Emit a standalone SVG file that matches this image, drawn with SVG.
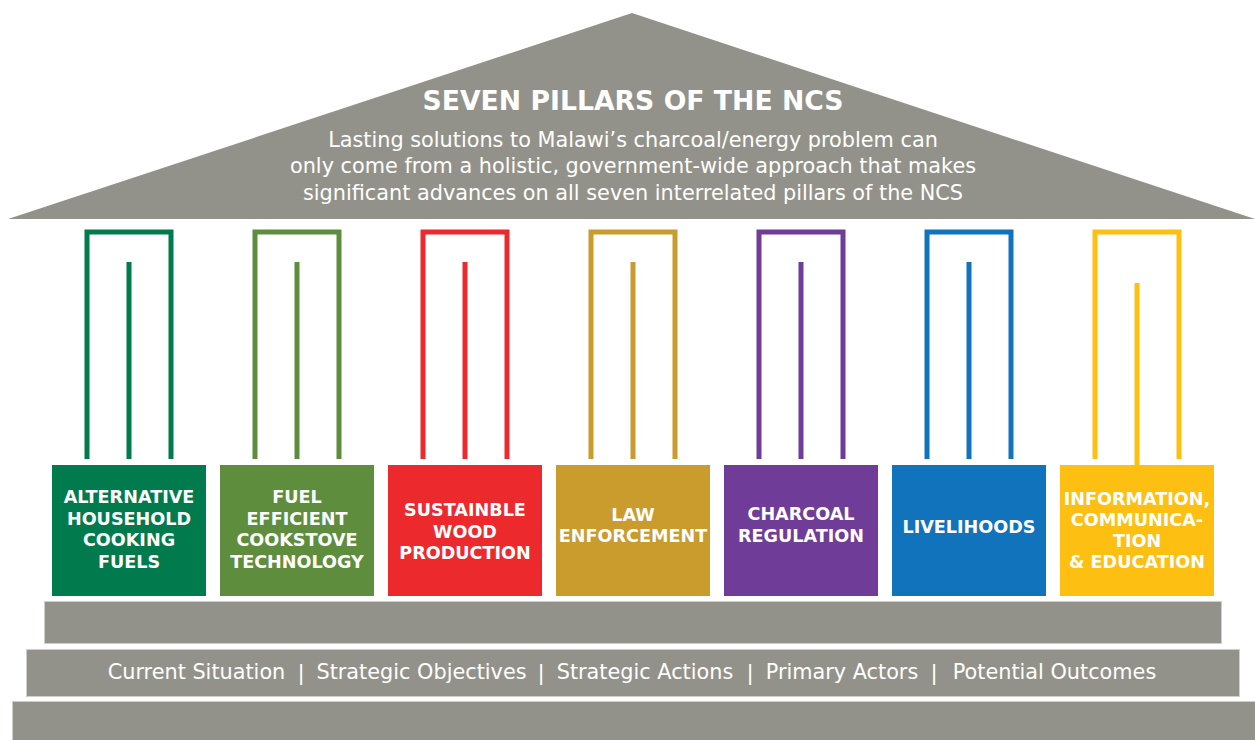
<svg xmlns="http://www.w3.org/2000/svg" width="1255" height="740" viewBox="0 0 1255 740">
<style>
.gray{fill:#93928A}
.step{fill:#93928A;stroke:#cfcfca;stroke-width:1}
.t{fill:#fff;font-family:"DejaVu Sans",sans-serif;font-weight:bold;text-anchor:middle}
.lbl{font-size:17.6px}
.sub{fill:#fff;font-family:"DejaVu Sans",sans-serif;font-size:20.8px;text-anchor:middle}
.sep{fill:#fff;font-family:"Liberation Sans",Arial,sans-serif;font-size:22px;text-anchor:middle}
.arch{fill:none;stroke-width:5;stroke-linejoin:miter}
</style>
<rect width="1255" height="740" fill="#fff"/>
<g id="roof">
<polygon class="gray" points="632,13 8,219 1255,219"/>
<text class="t" x="633" y="110" font-size="26.7">SEVEN PILLARS OF THE NCS</text>
<text class="sub" x="633" y="147">Lasting solutions to Malawi’s charcoal/energy problem can</text>
<text class="sub" x="633" y="173">only come from a holistic, government-wide approach that makes</text>
<text class="sub" x="633" y="200">significant advances on all seven interrelated pillars of the NCS</text>
</g>
<g id="pillar1">
<path class="arch" stroke="#017B4D" d="M87 459V232H171V459M129 262V459"/>
<rect x="52" y="465" width="154" height="131" fill="#017B4D"/>
<text class="t lbl" x="129" y="503">ALTERNATIVE</text>
<text class="t lbl" x="129" y="524.5">HOUSEHOLD</text>
<text class="t lbl" x="129" y="546">COOKING</text>
<text class="t lbl" x="129" y="567.5">FUELS</text>
</g>
<g id="pillar2">
<path class="arch" stroke="#5F8D3E" d="M255 459V232H339V459M297 262V459"/>
<rect x="220" y="465" width="154" height="131" fill="#5F8D3E"/>
<text class="t lbl" x="297" y="503">FUEL</text>
<text class="t lbl" x="297" y="524.5">EFFICIENT</text>
<text class="t lbl" x="297" y="546">COOKSTOVE</text>
<text class="t lbl" x="297" y="567.5">TECHNOLOGY</text>
</g>
<g id="pillar3">
<path class="arch" stroke="#EC2A2E" d="M423 459V232H507V459M465 262V459"/>
<rect x="388" y="465" width="154" height="131" fill="#EC2A2E"/>
<text class="t lbl" x="465" y="516">SUSTAINBLE</text>
<text class="t lbl" x="465" y="537.5">WOOD</text>
<text class="t lbl" x="465" y="559">PRODUCTION</text>
</g>
<g id="pillar4">
<path class="arch" stroke="#CA9B2D" d="M591 459V232H675V459M633 262V459"/>
<rect x="556" y="465" width="154" height="131" fill="#CA9B2D"/>
<text class="t lbl" x="633" y="521">LAW</text>
<text class="t lbl" x="633" y="542">ENFORCEMENT</text>
</g>
<g id="pillar5">
<path class="arch" stroke="#6F3D97" d="M759 459V232H843V459M801 262V459"/>
<rect x="724" y="465" width="154" height="131" fill="#6F3D97"/>
<text class="t lbl" x="801" y="520">CHARCOAL</text>
<text class="t lbl" x="801" y="542">REGULATION</text>
</g>
<g id="pillar6">
<path class="arch" stroke="#1173BB" d="M927 459V232H1011V459M969 262V459"/>
<rect x="892" y="465" width="154" height="131" fill="#1173BB"/>
<text class="t lbl" x="969" y="533">LIVELIHOODS</text>
</g>
<g id="pillar7">
<path class="arch" stroke="#FDBF12" d="M1095 459V232H1179V459M1137 283V466"/>
<rect x="1060" y="465" width="154" height="131" fill="#FDBF12"/>
<text class="t lbl" x="1137" y="505">INFORMATION,</text>
<text class="t lbl" x="1137" y="525.5">COMMUNICA-</text>
<text class="t lbl" x="1137" y="547">TION</text>
<text class="t lbl" x="1137" y="568">&amp; EDUCATION</text>
</g>
<g id="base">
<rect class="step" x="44.5" y="601.5" width="1177" height="42"/>
<rect class="step" x="26.5" y="649.5" width="1213" height="47"/>
<rect class="step" x="12.5" y="701.5" width="1250" height="45"/>
<text class="sub" x="196.5" y="679">Current Situation</text>
<text class="sep" x="301" y="680">|</text>
<text class="sub" x="421.5" y="679">Strategic Objectives</text>
<text class="sep" x="541" y="680">|</text>
<text class="sub" x="645" y="679">Strategic Actions</text>
<text class="sep" x="750" y="680">|</text>
<text class="sub" x="842" y="679">Primary Actors</text>
<text class="sep" x="934" y="680">|</text>
<text class="sub" x="1054.5" y="679">Potential Outcomes</text>
</g>
</svg>
